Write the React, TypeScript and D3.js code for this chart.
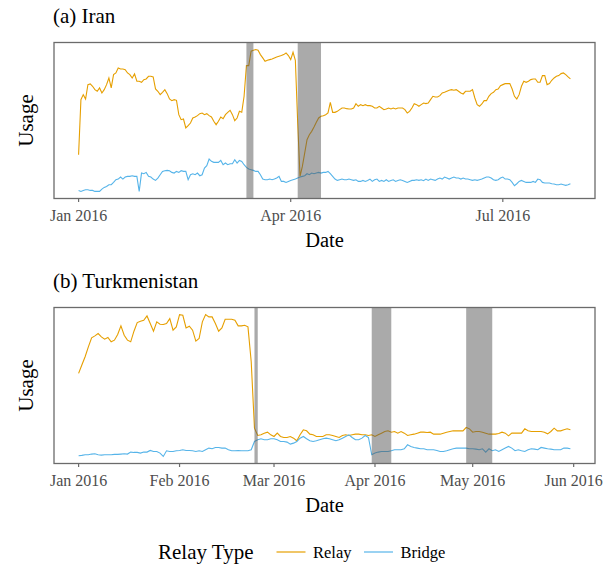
import React from "react";
import * as d3 from "d3";

// relay type usage (arbitrary index), one value per day
const iranStart = "2016-01-01";
const iranRelay = [
  135, 300, 315, 302, 345, 347, 340, 330, 325, 335, 320, 330, 345, 365, 335, 375, 380, 395, 392, 392,
  390, 380, 375, 365, 377, 355, 355, 352, 360, 362, 370, 370, 368, 332, 325, 315, 322, 330, 318, 302,
  297, 300, 298, 255, 240, 242, 215, 222, 230, 245, 248, 252, 258, 260, 255, 258, 252, 248, 235, 225,
  235, 248, 243, 255, 262, 268, 255, 237, 245, 265, 262, 310, 402, 402, 445, 448, 450, 448, 435, 425,
  415, 418, 420, 422, 425, 428, 430, 432, 435, 440, 432, 420, 442, 418, 230, 70, 100, 140, 180, 195,
  205, 218, 232, 245, 250, 252, 255, 260, 292, 262, 262, 265, 270, 275, 275, 273, 272, 272, 275, 288,
  280, 285, 282, 285, 282, 282, 280, 275, 275, 280, 275, 270, 272, 275, 272, 275, 272, 275, 275, 275,
  270, 260, 265, 275, 288, 285, 280, 285, 290, 288, 290, 300, 310, 308, 308, 312, 320, 322, 325, 328,
  330, 328, 330, 325, 320, 317, 325, 325, 325, 330, 305, 285, 280, 287, 297, 297, 310, 318, 322, 330,
  332, 342, 345, 348, 348, 348, 332, 310, 302, 315, 340, 355, 352, 355, 360, 362, 362, 352, 352, 372,
  372, 345, 348, 358, 365, 370, 372, 378, 380, 375, 368, 362,
];
const iranBridge = [
  28, 25, 28, 30, 30, 28, 28, 25, 25, 25, 32, 37, 40, 45, 45, 52, 60, 62, 68, 62,
  68, 70, 70, 72, 70, 70, 25, 80, 78, 82, 70, 68, 62, 58, 65, 75, 85, 87, 88, 87,
  82, 80, 85, 82, 87, 85, 85, 60, 75, 78, 75, 80, 72, 75, 95, 102, 122, 115, 112, 112,
  112, 118, 105, 110, 105, 108, 108, 120, 110, 118, 115, 105, 97, 92, 90, 88, 85, 85, 75, 62,
  60, 60, 62, 60, 62, 65, 70, 55, 55, 52, 55, 58, 60, 62, 65, 68, 70, 72, 78, 75,
  80, 78, 80, 82, 80, 82, 82, 85, 78, 70, 62, 58, 60, 62, 60, 60, 62, 60, 58, 60,
  55, 55, 58, 55, 58, 62, 55, 60, 62, 55, 58, 55, 60, 55, 58, 60, 55, 58, 60, 58,
  55, 52, 55, 58, 58, 60, 58, 60, 57, 62, 58, 62, 60, 58, 62, 65, 62, 68, 65, 62,
  65, 68, 65, 65, 62, 65, 62, 62, 60, 58, 60, 58, 60, 62, 65, 68, 68, 65, 60, 58,
  60, 65, 68, 62, 62, 60, 52, 42, 48, 55, 58, 55, 52, 52, 52, 55, 52, 62, 60, 52,
  50, 50, 50, 48, 47, 45, 45, 47, 45, 43, 45, 48,
];
const iranEvents = [
  ["2016-03-13", "2016-03-16"],
  ["2016-04-04", "2016-04-14"],
];
const iranTicks = ["2016-01-01", "2016-04-01", "2016-07-01"];

const turkStart = "2016-01-01";
const turkRelay = [
  275, 300, 325, 355, 382, 388, 395, 385, 378, 383, 370, 375, 392, 418, 390, 375, 370, 402, 428, 432,
  435, 448, 425, 402, 430, 423, 422, 425, 440, 405, 415, 452, 450, 412, 417, 405, 372, 380, 430, 452,
  445, 445, 425, 402, 412, 438, 438, 438, 435, 418, 418, 420, 415, 310, 110, 88, 90, 95, 98, 90,
  85, 95, 85, 82, 82, 85, 80, 72, 90, 105, 102, 92, 90, 85, 85, 85, 90, 90, 88, 85,
  82, 88, 90, 88, 90, 92, 92, 90, 90, 88, 90, 85, 90, 95, 100, 102, 98, 100, 95, 100,
  95, 88, 90, 92, 95, 98, 98, 97, 98, 92, 92, 92, 95, 98, 100, 102, 102, 102, 102, 112,
  108, 98, 100, 100, 98, 95, 92, 92, 92, 94, 98, 95, 87, 95, 95, 95, 95, 108, 102, 100,
  100, 100, 100, 98, 93, 100, 110, 102, 102, 105, 108, 105,
];
const turkBridge = [
  27, 28, 30, 30, 32, 33, 30, 29, 30, 30, 30, 31, 31, 32, 33, 32, 38, 37, 37, 35,
  38, 38, 43, 40, 40, 35, 25, 42, 40, 40, 42, 43, 45, 43, 43, 42, 40, 42, 40, 45,
  50, 48, 52, 52, 50, 50, 45, 42, 42, 43, 42, 42, 42, 45, 70, 75, 78, 75, 75, 78,
  78, 75, 70, 70, 68, 62, 65, 70, 80, 85, 78, 72, 70, 72, 75, 78, 80, 78, 75, 72,
  75, 80, 85, 90, 82, 75, 75, 80, 88, 82, 30, 35, 38, 40, 40, 40, 42, 45, 45, 45,
  48, 60, 55, 52, 50, 48, 48, 45, 45, 45, 43, 40, 40, 42, 45, 48, 50, 50, 50, 50,
  48, 48, 47, 45, 48, 38, 48, 42, 45, 40, 45, 50, 55, 50, 42, 45, 42, 40, 45, 48,
  47, 45, 52, 50, 48, 47, 45, 45, 45, 50, 50, 48,
];
const turkEvents = [
  ["2016-02-24", "2016-02-25"],
  ["2016-03-31", "2016-04-06"],
  ["2016-04-29", "2016-05-07"],
];
const turkTicks = ["2016-01-01", "2016-02-01", "2016-03-01", "2016-04-01", "2016-05-01", "2016-06-01"];

const seriesNames = ["Relay", "Bridge"];
const seriesColors = ["#E69F00", "#56B4E9"];

const FONT = "'Liberation Serif', 'DejaVu Serif', serif";
const parse = d3.timeParse("%Y-%m-%d");
const fmt = d3.timeFormat("%b %Y");

function Panel({ title, top, start, relay, bridge, events, ticks }) {
  const left = 54, right = 595, h = 156;
  const bottom = top + h;
  const t0 = parse(start);
  const dates = relay.map((_, i) => d3.timeDay.offset(t0, i));
  const last = dates[dates.length - 1];
  const span = +last - +t0;
  const x = d3.scaleTime()
    .domain([new Date(+t0 - span * 0.05), new Date(+last + span * 0.05)])
    .range([left, right]);
  const all = relay.concat(bridge);
  const lo = d3.min(all), hi = d3.max(all);
  const pad = (hi - lo) * 0.05;
  const y = d3.scaleLinear().domain([lo - pad, hi + pad]).range([bottom, top]);
  const line = d3.line().x((d, i) => x(dates[i])).y((d) => y(d));
  const cx = (left + right) / 2;

  return (
    <g>
      <text x={53} y={top - 20} fontSize={21} fontFamily={FONT} fill="#000">{title}</text>
      <rect x={left} y={top} width={right - left} height={h} fill="#fff" />
      {[relay, bridge].map((s, k) => (
        <path key={k} d={line(s)} fill="none" stroke={seriesColors[k]} strokeWidth={1.1} />
      ))}
      {events.map(([a, b], k) => (
        <rect key={k} x={x(parse(a))} y={top} width={x(parse(b)) - x(parse(a))} height={h}
          fill="#555" fillOpacity={0.5} />
      ))}
      <rect x={left} y={top} width={right - left} height={h} fill="none" stroke="#6b6b6b" strokeWidth={1.3} />
      {ticks.map((t) => {
        const tx = x(parse(t));
        return (
          <g key={t}>
            <line x1={tx} x2={tx} y1={bottom} y2={bottom + 3.5} stroke="#6b6b6b" strokeWidth={1.2} />
            <text x={tx} y={bottom + 22.5} textAnchor="middle" fontSize={16} fontFamily={FONT} fill="#4d4d4d">
              {fmt(parse(t))}
            </text>
          </g>
        );
      })}
      <text x={cx} y={bottom + 48.5} textAnchor="middle" fontSize={20.5} fontFamily={FONT} fill="#000">Date</text>
      <text transform={`translate(33,${(top + bottom) / 2}) rotate(-90)`} textAnchor="middle"
        fontSize={21} fontFamily={FONT} fill="#000">Usage</text>
    </g>
  );
}

export default function App() {
  const legendX = [276.5, 364];
  return (
    <svg width={616} height={565} style={{ position: "absolute", left: 0, top: 0, background: "#fff" }}>
      <rect width={616} height={565} fill="#fff" />
      <Panel title="(a) Iran" top={42.5} start={iranStart} relay={iranRelay} bridge={iranBridge}
        events={iranEvents} ticks={iranTicks} />
      <Panel title="(b) Turkmenistan" top={307.5} start={turkStart} relay={turkRelay} bridge={turkBridge}
        events={turkEvents} ticks={turkTicks} />
      <text x={158} y={559} fontSize={21} fontFamily={FONT} fill="#000">Relay Type</text>
      {seriesNames.map((n, k) => (
        <g key={n}>
          <line x1={legendX[k]} x2={legendX[k] + 29} y1={552} y2={552} stroke={seriesColors[k]} strokeWidth={1.2} />
          <text x={legendX[k] + 36.5} y={557.5} fontSize={16.5} fontFamily={FONT} fill="#000">{n}</text>
        </g>
      ))}
    </svg>
  );
}
